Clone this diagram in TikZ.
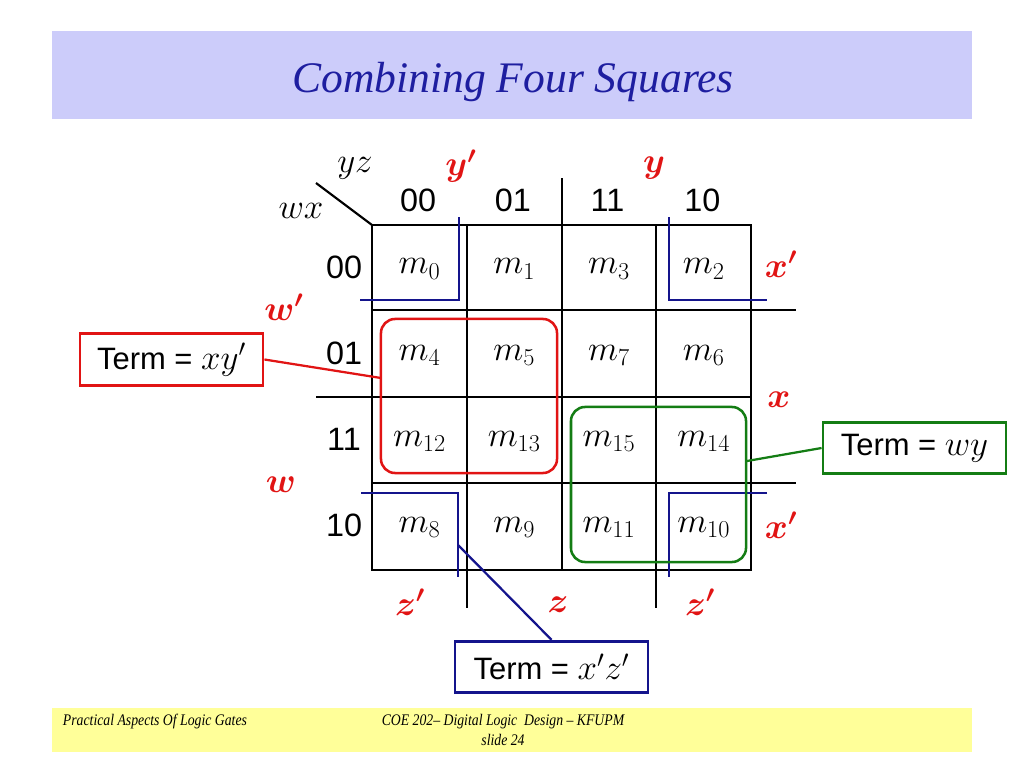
\documentclass[tikz,border=0pt]{standalone}
\usepackage{amsmath}
\usepackage{bm}
\usepackage{fontspec}
\setsansfont{Liberation Sans}
\newfontfamily\slidefont{Liberation Serif}
\newfontfamily\footfont[FakeStretch=0.85]{Liberation Serif}
\usetikzlibrary{positioning}

\definecolor{titleband}{RGB}{204,204,250}
\definecolor{footband}{RGB}{255,255,153}
\definecolor{titleblue}{RGB}{30,30,160}
\definecolor{kred}{RGB}{225,20,20}
\definecolor{kgreen}{RGB}{20,125,20}
\definecolor{kblue}{RGB}{20,20,140}

\newcommand{\bigmath}[1]{{\fontsize{27}{30}\selectfont$#1$}}

\tikzset{
  gridline/.style={line width=1.7pt},
  cornerline/.style={kblue, line width=1.5pt},
  cell/.style={font=\fontsize{26}{30}\selectfont},
  head/.style={font=\sffamily\fontsize{23}{27}\selectfont},
  varlab/.style={text=kred, font=\fontsize{27}{31}\selectfont},
  termbox/.style={draw, line width=2pt, fill=white, inner sep=0pt,
    font=\sffamily\fontsize{22}{26}\selectfont, minimum height=1.29cm},
  group/.style={draw, line width=1.8pt, rounded corners=10pt, inner sep=0pt},
  foottext/.style={font=\footfont\itshape\fontsize{11.5}{13}\selectfont}
}

\begin{document}
\begin{tikzpicture}[x=0.025cm, y=-0.025cm]
\useasboundingbox (0,0) rectangle (1024,768);

% title and footer bands
\fill[titleband] (52,31) rectangle (972,119);
\node (title) [text=titleblue, font=\slidefont\itshape\fontsize{31}{36}\selectfont] at (513,82) {Combining Four Squares};
\fill[footband] (52,708) rectangle (972,752);
\node (foot1) [anchor=west, foottext] at (58,722) {Practical Aspects Of Logic Gates};
\node (foot2) [foottext] at (503,722) {COE 202– Digital Logic\ \ Design – KFUPM};
\node (foot3) [foottext] at (503,740) {slide 24};

% k-map grid
\draw[gridline] (372,225) rectangle (751,570);
\draw[gridline] (562,178) -- (562,570);
\draw[gridline] (467,225) -- (467,608);
\draw[gridline] (656,225) -- (656,608);
\draw[gridline] (372,310) -- (796,310);
\draw[gridline] (316,397) -- (751,397);
\draw[gridline] (372,483) -- (796,483);
\draw[line width=1.5pt] (316,183) -- (372,225);

\node (yz) [cell] at (355,168) {$yz$};
\node (wx) [cell] at (301,211) {$wx$};

% headings
\foreach \t/\c in {00/0,01/1,11/2,10/3}
  \node (col\c) [head] at ({418+94.75*\c},200) {\t};
\foreach \t/\r in {00/0,01/1,11/2,10/3}
  \node (row\r) [head] at (344,{267+86.25*\r}) {\t};

% minterms
\foreach \m/\c/\r in {0/0/0,1/1/0,3/2/0,2/3/0,4/0/1,5/1/1,7/2/1,6/3/1,
                      12/0/2,13/1/2,15/2/2,14/3/2,8/0/3,9/1/3,11/2/3,10/3/3}
  \node (m\m) [cell] at ({419.5+94.75*\c},{269+86.25*\r}) {$m_{\m}$};

% variable labels
\node (yp) [varlab] at (461,166) {$\bm{y'}$};
\node (y)  [varlab] at (654,168) {$\bm{y}$};
\node (xp1) [varlab] at (781,264) {$\bm{x'}$};
\node (x)  [varlab] at (779,400) {$\bm{x}$};
\node (xp2) [varlab] at (781,525) {$\bm{x'}$};
\node (wp) [varlab] at (284,307) {$\bm{w'}$};
\node (w)  [varlab] at (281,485) {$\bm{w}$};
\node (zp1) [varlab] at (410,602) {$\bm{z'}$};
\node (z)  [varlab] at (558,605) {$\bm{z}$};
\node (zp2) [varlab] at (700,602) {$\bm{z'}$};

% corner group x'z'
\draw[cornerline] (360,300) -- (459,300) -- (459,217);
\draw[cornerline] (669,217) -- (669,300) -- (767,300);
\draw[cornerline] (361,493) -- (458,493) -- (458,577);
\draw[cornerline] (767,493) -- (669,493) -- (669,577);

% groups
\node (gxy) [group, draw=kred, minimum width=4.4cm, minimum height=3.85cm] at (469,396) {};
\node (gwy) [group, draw=kgreen, minimum width=4.375cm, minimum height=3.875cm] at (658.5,484.5) {};

% terms
\node (txy) [termbox, draw=kred, minimum width=4.575cm] at (171.5,359.5) {Term = \bigmath{xy'}};
\node (twy) [termbox, draw=kgreen, minimum width=4.575cm] at (914.5,448) {Term = \bigmath{wy}};
\node (txz) [termbox, draw=kblue, minimum width=4.825cm] at (551.5,667) {Term = \bigmath{x'z'}};

\coordinate (exy) at (381,378);
\coordinate (ewy) at (747,461);
\coordinate (exz) at (458,545);
\draw[kred, line width=1.6pt] (txy.east) -- (exy);
\draw[kgreen, line width=1.6pt] (twy.west) -- (ewy);
\draw[kblue, line width=1.6pt] (txz.north) -- (exz);
\end{tikzpicture}
\end{document}
